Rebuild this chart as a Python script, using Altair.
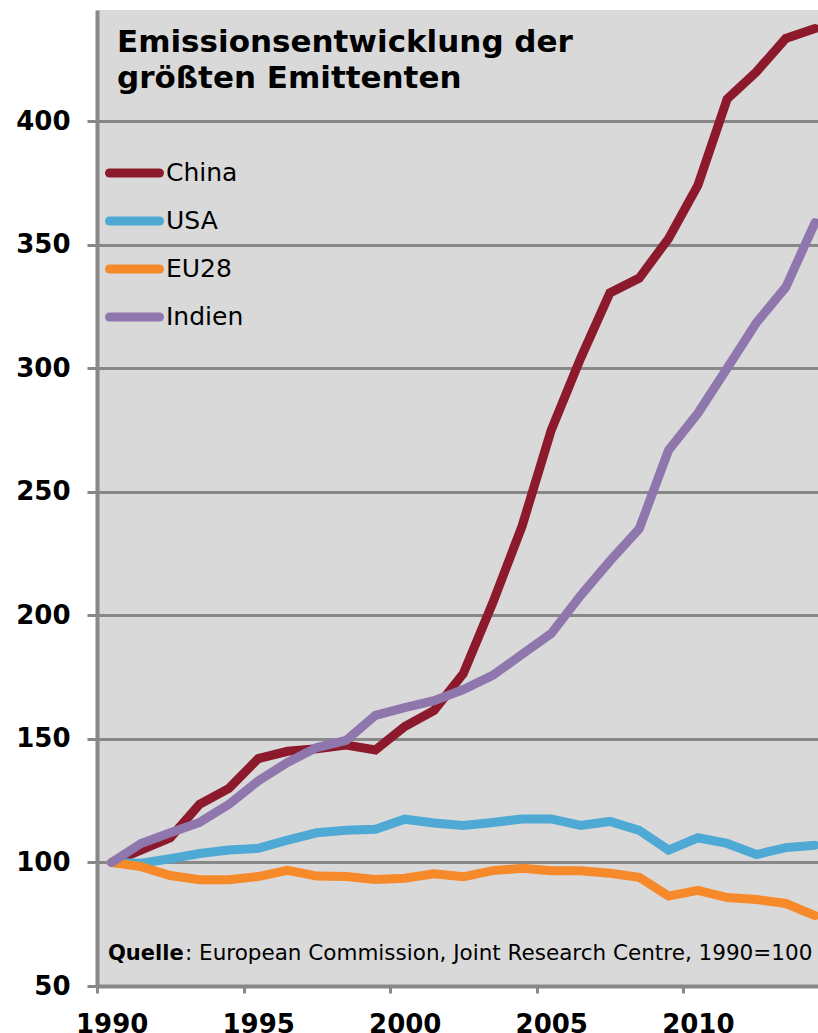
import altair as alt
import pandas as pd

years = list(range(1990, 2015))
china = [100, 105, 110, 123.5, 130, 142, 145, 146, 147.5, 145.5, 155, 161.5, 176.5, 205, 236,
         275, 304, 330.5, 336.5, 352.5, 374, 409, 420, 433.5, 437.5]
usa = [100, 99.7, 101.5, 103.6, 105, 105.7, 109, 112, 113, 113.4, 117.5, 116, 115, 116.2, 117.6,
       117.6, 115, 116.6, 113, 105, 110, 107.7, 103.2, 106, 107]
eu28 = [100, 98.3, 94.7, 93, 93, 94.3, 96.8, 94.5, 94.3, 93.1, 93.6, 95.4, 94.2, 96.7, 97.6,
        96.6, 96.6, 95.6, 94, 86.4, 88.7, 85.8, 85, 83.4, 78.5]
indien = [100, 107.7, 112, 116.2, 123.5, 133, 140.5, 146.5, 149.4, 159.5, 162.7, 165.5, 170, 175.7, 184.2,
          192.7, 208, 222, 235, 266.8, 281.8, 300, 318.5, 332.8, 359]

series = ["China", "USA", "EU28", "Indien"]
colors = ["#8c1a2c", "#4ea9d5", "#f6892a", "#8f76ad"]
y_ticks = [50, 100, 150, 200, 250, 300, 350, 400]
x_ticks = [1989.5, 1994.5, 1999.5, 2004.5, 2009.5]
title_lines = ["Emissionsentwicklung der", "größten Emittenten"]
source_bold = "Quelle"
source_rest = ": European Commission, Joint Research Centre, 1990=100"

rows = []
for name, vals in zip(series, [china, usa, eu28, indien]):
    for yr, v in zip(years, vals):
        rows.append({"Jahr": yr, "Wert": v, "Land": name})
df = pd.DataFrame(rows)

W, H = 721, 976
FONT = "DejaVu Sans"
color_scale = alt.Scale(domain=series, range=colors)

x_enc = alt.X(
    "Jahr:Q",
    scale=alt.Scale(domain=[1989.5, 2014.1], nice=False, zero=False),
    axis=alt.Axis(values=x_ticks, labelExpr="toString(datum.value + 0.5)", labelOffset=14.65,
                  labelFlush=False, labelOverlap=False,
                  grid=False, tickSize=7, labelPadding=18, title=None),
)
y_enc = alt.Y(
    "Wert:Q",
    scale=alt.Scale(domain=[50, 445], nice=False, zero=False),
    axis=alt.Axis(values=y_ticks, tickSize=10, labelPadding=17, title=None, grid=True,
                  labelFlush=False),
)

layers = []
for s in series:
    layers.append(
        alt.Chart(df).transform_filter(alt.datum.Land == s)
        .mark_line(strokeWidth=9, strokeCap="round", strokeJoin="miter")
        .encode(x=x_enc, y=y_enc, color=alt.Color("Land:N", scale=color_scale, legend=None))
    )

leg_df = pd.DataFrame({"Land": series, "idx": list(range(len(series)))})
leg_base = alt.Chart(leg_df).transform_calculate(ypix="163 + 48 * datum.idx")
leg_rule = leg_base.mark_rule(strokeWidth=9, strokeCap="round").encode(
    x=alt.value(12.5), x2=alt.value(62.5),
    y=alt.Y("ypix:Q", scale=None, axis=None),
    color=alt.Color("Land:N", scale=color_scale, legend=None),
)
leg_text = leg_base.mark_text(align="left", baseline="middle", fontSize=25, font=FONT, color="#000000").encode(
    x=alt.value(69), y=alt.Y("ypix:Q", scale=None, axis=None), text="Land:N"
)

one = pd.DataFrame({"k": [0]})
title = alt.Chart(one).mark_text(
    text=title_lines, align="left", baseline="alphabetic", fontSize=31, fontWeight="bold",
    font=FONT, lineHeight=36, color="#000000"
).encode(x=alt.value(20), y=alt.value(42))
src1 = alt.Chart(one).mark_text(
    text=source_bold, align="left", baseline="alphabetic", fontSize=21, fontWeight="bold",
    font=FONT, color="#000000"
).encode(x=alt.value(11), y=alt.value(950))
src2 = alt.Chart(one).mark_text(
    text=source_rest, align="left", baseline="alphabetic", fontSize=21.5,
    font=FONT, color="#000000"
).encode(x=alt.value(88), y=alt.value(950))

chart = alt.layer(*layers, leg_rule, leg_text, title, src1, src2).properties(
    width=W, height=H,
    autosize=alt.AutoSizeParams(type="none"),
    padding={"left": 97, "top": 10, "right": 0, "bottom": 47},
).configure_view(fill="#d9d9d9", strokeWidth=0).configure_axis(
    gridColor="#888888", gridWidth=3, gridOpacity=1,
    domainColor="#888888", domainWidth=4,
    tickColor="#888888", tickWidth=3,
    labelFont=FONT, labelFontSize=26, labelFontWeight="bold", labelColor="#000000",
)

chart.save("out.html", embed_options={"renderer": "svg", "actions": False})
